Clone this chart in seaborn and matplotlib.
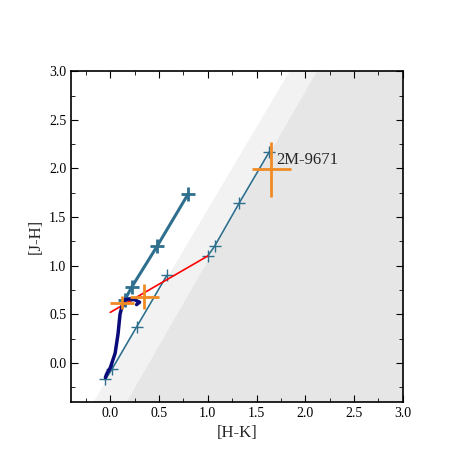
import matplotlib
matplotlib.use("Agg")
import matplotlib.pyplot as plt
import seaborn as sns
from matplotlib.ticker import MultipleLocator

sns.set_style("ticks")
plt.rcParams['font.family'] = ['Liberation Serif', 'DejaVu Serif']
plt.rcParams['mathtext.fontset'] = 'stix'

dwarf_hk = [-0.05, -0.03, 0.0, 0.05, 0.08, 0.10, 0.12, 0.15, 0.20, 0.25, 0.30, 0.30, 0.27]
dwarf_jh = [-0.15, -0.10, -0.05, 0.10, 0.30, 0.50, 0.58, 0.65, 0.66, 0.65, 0.64, 0.61, 0.60]
giant_hk = [0.15, 0.22, 0.48, 0.80]
giant_jh = [0.65, 0.78, 1.20, 1.74]
track1_hk = [-0.05, 0.02, 0.27, 0.58]
track1_jh = [-0.17, -0.06, 0.37, 0.90]
track2_hk = [1.00, 1.07, 1.32, 1.63]
track2_jh = [1.10, 1.20, 1.64, 2.17]
ctts_hk = [0.00, 1.00]
ctts_jh = [0.52, 1.10]
obs_hk = [0.12, 0.35, 1.65]
obs_jh = [0.62, 0.68, 1.99]
obs_hk_err = [0.12, 0.15, 0.20]
obs_jh_err = [0.07, 0.13, 0.28]
band_light_x = [-0.17, 1.84, 3.0, 3.0]
band_dark_x = [0.17, 2.12, 3.0, 3.0]
band_y = [-0.4, 3.0, 3.0, -0.4]

fig = plt.figure(figsize=(4.75, 4.75), dpi=100)
ax = fig.add_axes([0.15, 0.154, 0.698, 0.696])
ax.fill(band_light_x, band_y, color='#f2f2f2', lw=0, zorder=0)
ax.fill(band_dark_x, band_y, color='#e6e6e6', lw=0, zorder=0)

blue = '#2e6f8e'
sns.lineplot(x=track1_hk, y=track1_jh, ax=ax, color=blue, lw=1.2, marker='+', ms=9, mew=1.0, mec=blue, sort=False, zorder=3)
sns.lineplot(x=track2_hk, y=track2_jh, ax=ax, color=blue, lw=1.2, marker='+', ms=9, mew=1.0, mec=blue, sort=False, zorder=3)
sns.lineplot(x=giant_hk, y=giant_jh, ax=ax, color=blue, lw=2.2, marker='+', ms=10, mew=2.0, mec=blue, sort=False, zorder=3)
sns.lineplot(x=ctts_hk, y=ctts_jh, ax=ax, color='red', lw=1.2, sort=False, zorder=4)
sns.lineplot(x=dwarf_hk, y=dwarf_jh, ax=ax, color='#0a0a7a', lw=2.5, sort=False, zorder=4)
ax.errorbar(obs_hk, obs_jh, xerr=obs_hk_err, yerr=obs_jh_err, fmt='none',
            ecolor='#f08a24', elinewidth=2, capsize=0, zorder=5)
ax.text(1.70, 2.0, '2M-9671', fontsize=12, va='bottom')

ax.set_xlim(-0.4, 3.0)
ax.set_ylim(-0.4, 3.0)
ax.xaxis.set_major_locator(MultipleLocator(0.5))
ax.yaxis.set_major_locator(MultipleLocator(0.5))
ax.xaxis.set_minor_locator(MultipleLocator(0.25))
ax.yaxis.set_minor_locator(MultipleLocator(0.25))
ax.tick_params(which='both', direction='in', top=True, right=True, labelsize=10, colors='black')
ax.tick_params(which='major', length=5)
ax.tick_params(which='minor', length=3)
for s in ax.spines.values():
    s.set_linewidth(1.2)
    s.set_color('black')
ax.set_xlabel('[H-K]', fontsize=12)
ax.set_ylabel('[J-H]', fontsize=12)
fig.savefig('out.png', dpi=100)
